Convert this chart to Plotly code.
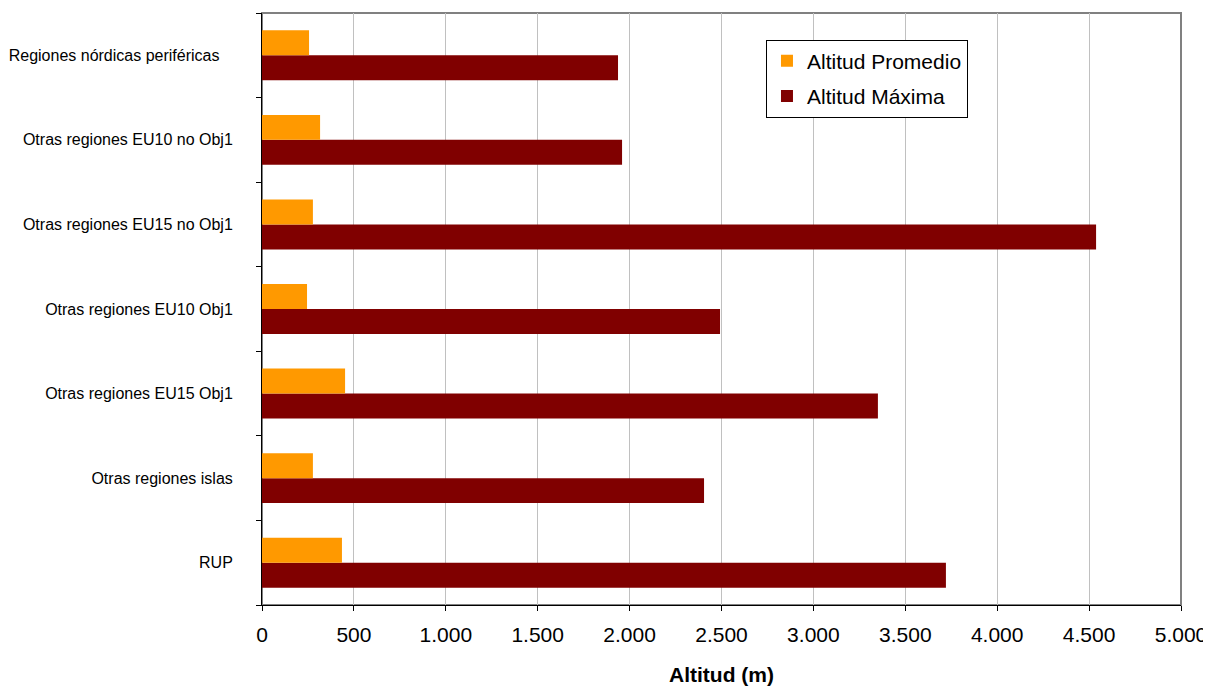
import plotly.graph_objects as go

categories = [
    "RUP",
    "Otras regiones islas",
    "Otras regiones EU15 Obj1",
    "Otras regiones EU10 Obj1",
    "Otras regiones EU15 no Obj1",
    "Otras regiones EU10 no Obj1",
    "Regiones nórdicas periféricas\u00a0\u00a0\u00a0",
]
altitud_promedio = [435, 277, 452, 245, 277, 316, 256]
altitud_maxima = [3721, 2405, 3351, 2492, 4538, 1959, 1937]
x_tick_vals = [0, 500, 1000, 1500, 2000, 2500, 3000, 3500, 4000, 4500, 5000]
x_tick_text = ["0", "500", "1.000", "1.500", "2.000", "2.500", "3.000", "3.500", "4.000", "4.500", "5.000"]

FONT = "Liberation Sans, Arial, sans-serif"

fig = go.Figure()
fig.add_trace(go.Bar(
    y=categories, x=altitud_maxima, orientation="h", name="Altitud Máxima",
    legendgroup="max", legendrank=2,
    marker=dict(color="#800000", line=dict(width=0)),
))
fig.add_trace(go.Bar(
    y=categories, x=altitud_promedio, orientation="h", name="Altitud Promedio",
    legendgroup="avg", legendrank=1,
    marker=dict(color="#FF9900", line=dict(width=0)),
))

fig.update_layout(
    width=1203, height=678,
    margin=dict(l=254, r=30, t=5, b=81, autoexpand=False),
    paper_bgcolor="white", plot_bgcolor="white",
    barmode="group", bargap=0.41, bargroupgap=0,
    font=dict(family=FONT, color="black"),
    showlegend=True,
    legend=dict(
        x=0.5484, y=0.955, xanchor="left", yanchor="top",
        traceorder="grouped", tracegroupgap=5,
        bordercolor="black", borderwidth=1, bgcolor="white",
        font=dict(size=21, family=FONT),
        itemwidth=30,
    ),
    xaxis=dict(
        range=[0, 5000], tickmode="array", tickvals=x_tick_vals, ticktext=x_tick_text,
        showgrid=True, gridcolor="#c0c0c0", gridwidth=1,
        showline=True, linecolor="black", linewidth=1,
        ticks="outside", ticklen=5, tickcolor="black",
        tickfont=dict(size=21, family=FONT),
        ticklabelstandoff=6, automargin=False,
        title=dict(text="<b>Altitud (m)</b>", font=dict(size=21, family=FONT), standoff=22),
        zeroline=False,
    ),
    yaxis=dict(
        categoryorder="array", categoryarray=categories,
        showline=True, linecolor="black", linewidth=1,
        ticks="outside", ticklen=5, tickcolor="black", tickson="boundaries",
        tickfont=dict(size=16, family=FONT),
        ticklabelstandoff=25, automargin=False,
        showgrid=False, zeroline=False,
    ),
    shapes=[dict(type="rect", xref="paper", yref="paper", x0=0, x1=1, y0=0, y1=1,
                 line=dict(color="#808080", width=2), layer="below")],
)

fig.write_html("out.html")
